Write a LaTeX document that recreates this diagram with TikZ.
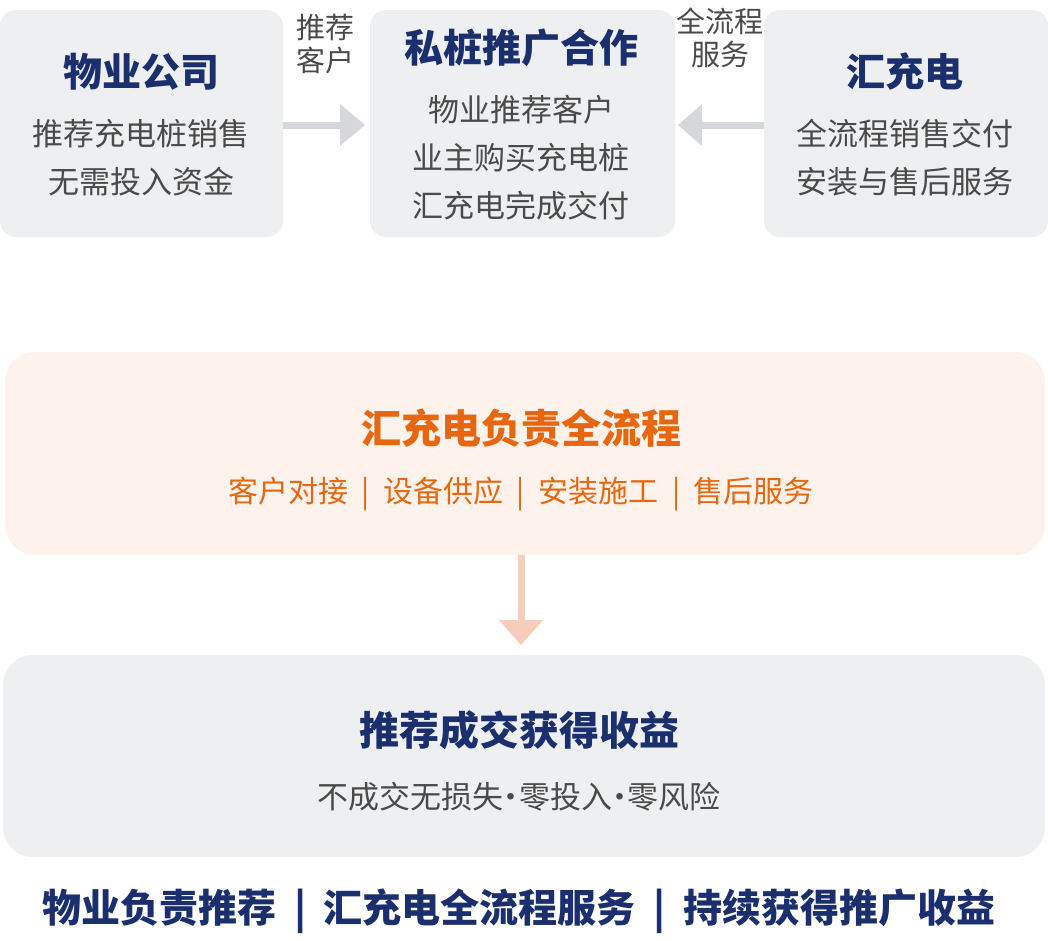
\documentclass[tikz,border=0pt]{standalone}
\usepackage{fontspec}
\setmainfont{Noto Sans CJK SC}
\definecolor{boxg}{HTML}{EEEFF1}
\definecolor{navy}{HTML}{1B2F6E}
\definecolor{txt}{HTML}{4A4A4A}
\definecolor{org}{HTML}{E8660F}
\definecolor{orgbg}{HTML}{FDF3EC}
\definecolor{arr}{HTML}{D5D7DB}
\definecolor{oarr}{HTML}{F6CDBB}
\newcommand{\sep}{\hspace{0.45em}|\hspace{0.45em}}
\begin{document}
\begin{tikzpicture}[x=1pt,y=-1pt,
  box/.style={fill=boxg,rounded corners=16pt,draw=none},
  ttl/.style={text=navy,font=\fontsize{39}{44}\selectfont\bfseries},
  body/.style={text=txt,font=\fontsize{31}{48}\selectfont,align=center},
  lab/.style={text=txt,font=\fontsize{29}{33}\selectfont,align=center},
  gline/.style={draw=arr,line width=7pt},
  ghead/.style={fill=arr,draw=none}]
\useasboundingbox (0,0) rectangle (1048,940);
\fill[box] (0,10) rectangle (283,237);
\fill[box] (370,10) rectangle (675,237);
\fill[box] (764,10) rectangle (1048,237);
\fill[fill=orgbg,rounded corners=30pt] (5,352) rectangle (1045,555);
\fill[box,rounded corners=30pt] (3,655) rectangle (1045,857);
% nodes
\node[ttl] (t1) at (141,72) {物业公司};
\node[body] (b1) at (141,158) {推荐充电桩销售\\无需投入资金};
\node[ttl] (t2) at (521,48) {私桩推广合作};
\node[body] (b2) at (521,158) {物业推荐客户\\业主购买充电桩\\汇充电完成交付};
\node[ttl] (t3) at (905,72) {汇充电};
\node[body] (b3) at (905,158) {全流程销售交付\\安装与售后服务};
\node[lab] (l1) at (325,44) {推荐\\客户};
\node[lab] (l2) at (720,38) {全流程\\服务};
\node[text=org,font=\fontsize{40}{44}\selectfont\bfseries] (t4) at (521,428) {汇充电负责全流程};
\node[text=org,font=\fontsize{30}{34}\selectfont] (b4) at (521,494) {客户对接\sep 设备供应\sep 安装施工\sep 售后服务};
\node[text=navy,font=\fontsize{40}{44}\selectfont\bfseries] (t5) at (519,730) {推荐成交获得收益};
\node[text=txt,font=\fontsize{31}{34}\selectfont] (b5) at (519,797) {不成交无损失{\hspace{-0.25em}·\hspace{-0.25em}}零投入{\hspace{-0.25em}·\hspace{-0.25em}}零风险};
\node[text=navy,font=\fontsize{39}{44}\selectfont\bfseries] (ft) at (519,911) {物业负责推荐\sep 汇充电全流程服务\sep 持续获得推广收益};
% arrows
\coordinate (a1s) at (283,125); \coordinate (a1e) at (342,125);
\draw[gline] (a1s) -- (a1e);
\fill[ghead] (340,104) -- (365,125) -- (340,146) -- cycle;
\coordinate (a2s) at (764,125); \coordinate (a2e) at (702,125);
\draw[gline] (a2s) -- (a2e);
\fill[ghead] (702,104) -- (678,125) -- (702,146) -- cycle;
\coordinate (a3s) at (521,555); \coordinate (a3e) at (521,622);
\draw[draw=oarr,line width=7pt] (a3s) -- (a3e);
\fill[oarr] (499,620) -- (543,620) -- (521,645) -- cycle;
\end{tikzpicture}
\end{document}
